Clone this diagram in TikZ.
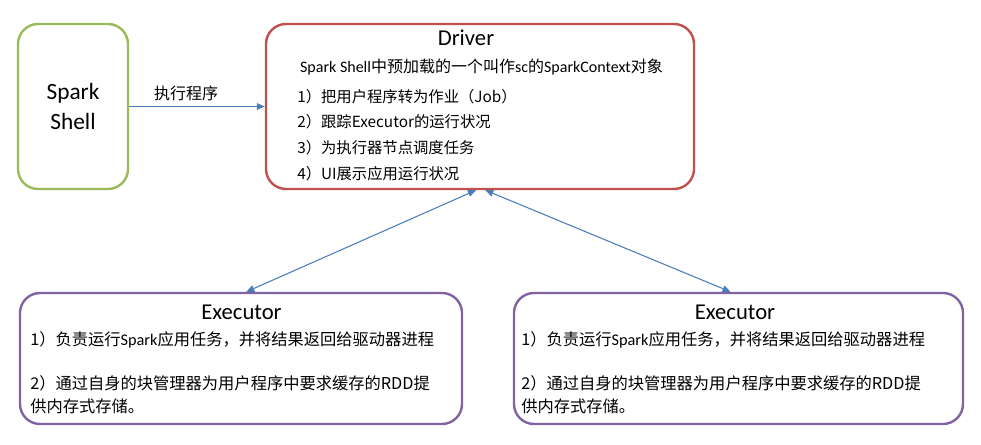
\documentclass[tikz,border=0pt]{standalone}
\usepackage{fontspec}
\setmainfont{Carlito}
\newfontfamily\cjk{Noto Sans CJK SC}
\usetikzlibrary{arrows.meta}

\begin{document}
\begin{tikzpicture}[x=0.75pt,y=-0.75pt,
  box/.style={draw, rounded corners=15pt, line width=1.8pt, fill=white},
  titolo/.style={inner sep=0pt, font=\fontsize{17}{22.5}\selectfont},
  riga/.style={anchor=west, inner sep=0pt, font=\fontsize{11.5}{13}\selectfont},
  rigaEx/.style={anchor=west, inner sep=0pt, font=\fontsize{12.2}{14}\selectfont},
  freccia/.style={draw=lineBlue, line width=0.8pt},
  >={Triangle[length=6pt,width=5pt]}]

% Colori
\definecolor{colShell}{HTML}{9BBB59}
\definecolor{colDriver}{HTML}{C0504D}
\definecolor{colExec}{HTML}{8064A2}
\definecolor{lineBlue}{HTML}{4A7EBB}

\useasboundingbox (0,0) rectangle (981,445);

% Riquadri
\node[box, draw=colShell, minimum width=82.5pt, minimum height=123.75pt,
  align=center, font=\fontsize{17.5}{22.5}\selectfont] (shell) at (73,106.5) {Spark\\Shell};
\node[box, draw=colDriver, minimum width=321pt, minimum height=123.75pt] (driver) at (480,106.5) {};
\node[box, draw=colExec, minimum width=331.5pt, minimum height=98.25pt] (exLeft) at (241,358.5) {};
\node[box, draw=colExec, minimum width=336.75pt, minimum height=98.25pt] (exRight) at (738.5,358.5) {};

% Driver
\node[titolo] (drvTitle) at (466,38) {Driver};
\node[inner sep=0pt, font=\fontsize{12}{13}\selectfont] (drvSc) at (481.5,67)
  {Spark Shell{\cjk 中预加载的一个叫作}sc{\cjk 的}SparkContext{\cjk 对象}};
\node[riga] (drvA) at (297,97) {\cjk 1）把用户程序转为作业（Job）};
\node[riga] (drvB) at (297,122) {\cjk 2）跟踪Executor的运行状况};
\node[riga] (drvC) at (297,148) {\cjk 3）为执行器节点调度任务};
\node[riga] (drvD) at (297,174) {\cjk 4）UI展示应用运行状况};

% Executor (sinistra)
\node[titolo] (exLTitle) at (241.5,312) {Executor};
\node[rigaEx] (exLA) at (30,340) {{\cjk 1）负责运行}Spark{\cjk 应用任务，并将结果返回给驱动器进程}};
\node[rigaEx] (exLB) at (30,383) {\cjk 2）通过自身的块管理器为用户程序中要求缓存的RDD提};
\node[rigaEx] (exLC) at (30,406) {\cjk 供内存式存储。};

% Executor (destra)
\node[titolo] (exRTitle) at (735,312) {Executor};
\node[rigaEx] (exRA) at (521,340) {{\cjk 1）负责运行}Spark{\cjk 应用任务，并将结果返回给驱动器进程}};
\node[rigaEx] (exRB) at (521,383) {\cjk 2）通过自身的块管理器为用户程序中要求缓存的RDD提};
\node[rigaEx] (exRC) at (521,406) {\cjk 供内存式存储。};

% Frecce
\draw[freccia, ->] (shell) -- node[pos=0.42, above=4pt, inner sep=0pt,
  font=\fontsize{12}{14}\selectfont\cjk] (lblRun) {执行程序} (driver);
\draw[freccia, <->] ([xshift=-3pt]driver.south) -- ([xshift=4pt]exLeft.north);
\draw[freccia, <->] ([xshift=4pt]driver.south) -- ([xshift=-6pt]exRight.north);

\end{tikzpicture}
\end{document}
